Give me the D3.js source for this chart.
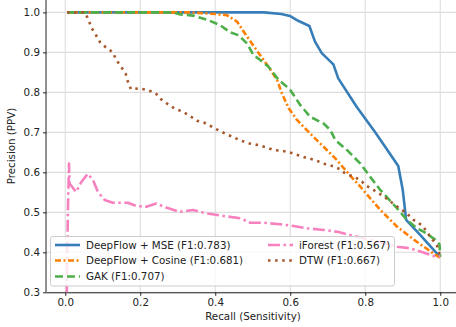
<!DOCTYPE html>
<html>
<head>
<meta charset="utf-8">
<script src="https://cdn.jsdelivr.net/npm/d3@7"></script>
<style>
  body { margin: 0; background: #fff; }
  text { font-family: "DejaVu Sans", sans-serif; fill: #222; }
</style>
</head>
<body>
<div id="chart"></div>
<script>
// precision / recall curves
var mseRecall = [0.005, 0.53, 0.576, 0.599, 0.621, 0.651, 0.666, 0.684, 0.715, 0.728, 0.777, 0.826, 0.853, 0.888, 0.9, 0.909, 0.947, 0.995, 1.0];
var msePrec   = [1.0, 1.0, 0.996, 0.991, 0.979, 0.966, 0.927, 0.898, 0.870, 0.835, 0.764, 0.701, 0.664, 0.616, 0.556, 0.481, 0.443, 0.393, 0.389];

var cosRecall = [0.005, 0.33, 0.40, 0.431, 0.458, 0.485, 0.516, 0.542, 0.565, 0.578, 0.596, 0.618, 0.653, 0.689, 0.724, 0.755, 0.787, 0.84, 0.885, 0.938, 0.982, 1.0];
var cosPrec   = [1.0, 1.0, 0.996, 0.993, 0.977, 0.939, 0.898, 0.864, 0.831, 0.797, 0.76, 0.731, 0.697, 0.664, 0.631, 0.597, 0.564, 0.506, 0.464, 0.426, 0.397, 0.386];

var gakRecall = [0.005, 0.288, 0.307, 0.341, 0.378, 0.413, 0.44, 0.462, 0.485, 0.502, 0.52, 0.542, 0.569, 0.591, 0.6, 0.627, 0.653, 0.689, 0.707, 0.72, 0.751, 0.787, 0.813, 0.84, 0.885, 0.911, 0.938, 0.964, 0.987, 0.998, 1.0];
var gakPrec   = [1.0, 1.0, 0.995, 0.992, 0.982, 0.968, 0.95, 0.943, 0.922, 0.893, 0.881, 0.864, 0.831, 0.814, 0.806, 0.768, 0.739, 0.722, 0.706, 0.681, 0.656, 0.622, 0.589, 0.556, 0.51, 0.481, 0.46, 0.447, 0.431, 0.42, 0.389];

var ifRecall = [0.004, 0.007, 0.01, 0.0115, 0.029, 0.043, 0.06, 0.074, 0.087, 0.105, 0.127, 0.167, 0.189, 0.216, 0.243, 0.269, 0.305, 0.341, 0.378, 0.422, 0.467, 0.493, 0.529, 0.573, 0.609, 0.645, 0.689, 0.729, 0.76, 0.82, 0.885, 0.92, 0.947, 0.982, 1.0];
var ifPrec   = [0.29, 0.5, 0.622, 0.572, 0.551, 0.576, 0.596, 0.581, 0.551, 0.531, 0.524, 0.524, 0.516, 0.514, 0.522, 0.512, 0.501, 0.506, 0.497, 0.491, 0.485, 0.474, 0.474, 0.47, 0.466, 0.46, 0.456, 0.451, 0.443, 0.43, 0.414, 0.41, 0.402, 0.391, 0.389];

var dtwRecall = [0.005, 0.053, 0.062, 0.071, 0.082, 0.093, 0.109, 0.127, 0.136, 0.149, 0.161, 0.167, 0.175, 0.196, 0.218, 0.24, 0.255, 0.273, 0.291, 0.312, 0.331, 0.351, 0.371, 0.391, 0.411, 0.431, 0.448, 0.47, 0.492, 0.515, 0.537, 0.555, 0.577, 0.599, 0.621, 0.644, 0.666, 0.688, 0.706, 0.728, 0.747, 0.769, 0.787, 0.8, 0.822, 0.844, 0.862, 0.88, 0.911, 0.929, 0.951, 0.964, 0.973, 0.991, 1.0];
var dtwPrec   = [1.0, 1.0, 0.981, 0.96, 0.943, 0.925, 0.912, 0.9, 0.881, 0.864, 0.847, 0.827, 0.808, 0.81, 0.806, 0.799, 0.783, 0.771, 0.76, 0.752, 0.742, 0.729, 0.724, 0.714, 0.704, 0.695, 0.688, 0.679, 0.672, 0.668, 0.662, 0.656, 0.654, 0.65, 0.643, 0.636, 0.631, 0.622, 0.618, 0.61, 0.597, 0.589, 0.581, 0.568, 0.556, 0.543, 0.531, 0.518, 0.497, 0.481, 0.468, 0.452, 0.439, 0.418, 0.39];

var labels = ["DeepFlow + MSE (F1:0.783)", "DeepFlow + Cosine (F1:0.681)", "GAK (F1:0.707)", "iForest (F1:0.567)", "DTW (F1:0.667)"];
var xTicks = [0.0, 0.2, 0.4, 0.6, 0.8, 1.0];
var yTicks = [0.3, 0.4, 0.5, 0.6, 0.7, 0.8, 0.9, 1.0];

function zip(xs, ys) {
    return xs.map(function(d, i){ return {r: d, p: ys[i]}; });
}

var series = [
    {name: labels[0], pts: zip(mseRecall, msePrec), color: "#377eb8", dash: null, w: 2.6},
    {name: labels[1], pts: zip(cosRecall, cosPrec), color: "#ff7f00", dash: "6,2.5,2,2.5", w: 2.6},
    {name: labels[2], pts: zip(gakRecall, gakPrec), color: "#4daf4a", dash: "8,4", w: 2.6},
    {name: labels[3], pts: zip(ifRecall, ifPrec), color: "#f781bf", dash: "12,3.5,2.5,3.5", w: 2.6},
    {name: labels[4], pts: zip(dtwRecall, dtwPrec), color: "#a65628", dash: "2.5,4.6", w: 2.6}
];

var W = 456, H = 327;
var left = 46.5, bottom = 292.3;
var fs = "10.3px";

var svg = d3.select("#chart").append("svg")
    .attr("width", W)
    .attr("height", H);

var x = d3.scaleLinear().domain([-0.05, 1.05]).range([left, left + 412.5]);
var y = d3.scaleLinear().domain([0.3, 1.031]).range([bottom, 0]);

svg.append("defs").append("clipPath").attr("id", "clip")
    .append("rect")
    .attr("x", left).attr("y", 0)
    .attr("width", 412.5).attr("height", bottom);

// grid
svg.append("g").selectAll("line")
    .data(xTicks).enter().append("line")
    .attr("x1", function(d){ return x(d); }).attr("x2", function(d){ return x(d); })
    .attr("y1", 0).attr("y2", bottom)
    .attr("stroke", "#dddddd").attr("stroke-width", 1.1);

svg.append("g").selectAll("line")
    .data(yTicks).enter().append("line")
    .attr("x1", left).attr("x2", W)
    .attr("y1", function(d){ return y(d); }).attr("y2", function(d){ return y(d); })
    .attr("stroke", "#dddddd").attr("stroke-width", 1.1);

// axes
var xAxis = d3.axisBottom(x).tickValues(xTicks).tickFormat(d3.format(".1f")).tickSize(3.5).tickPadding(3);
var yAxis = d3.axisLeft(y).tickValues(yTicks).tickFormat(d3.format(".1f")).tickSize(3.5).tickPadding(3);

var gx = svg.append("g")
    .attr("transform", "translate(0," + bottom + ")")
    .call(xAxis);
var gy = svg.append("g")
    .attr("transform", "translate(" + left + ",0)")
    .call(yAxis);

[gx, gy].forEach(function(g){
    g.select(".domain").attr("stroke", "#222").attr("stroke-width", 1);
    g.selectAll(".tick line").attr("stroke", "#222").attr("stroke-width", 1);
    g.selectAll(".tick text").style("font-family", "DejaVu Sans").style("font-size", fs).attr("fill", "#222");
});
gx.select(".domain").attr("d", "M" + left + ",0.5H" + W);
gy.select(".domain").attr("d", "M-0.5," + bottom + "V0");

// curves
var line = d3.line()
    .x(function(d){ return x(d.r); })
    .y(function(d){ return y(d.p); });

var plot = svg.append("g").attr("clip-path", "url(#clip)");

plot.selectAll("path")
    .data(series)
    .enter().append("path")
    .attr("d", function(d){ return line(d.pts); })
    .attr("fill", "none")
    .attr("stroke", function(d){ return d.color; })
    .attr("stroke-width", function(d){ return d.w; })
    .attr("stroke-dasharray", function(d){ return d.dash; })
    .attr("stroke-linejoin", "round");

// axis labels
svg.append("text")
    .attr("x", 253).attr("y", 320)
    .attr("text-anchor", "middle")
    .style("font-size", fs)
    .text("Recall (Sensitivity)");

svg.append("text")
    .attr("transform", "translate(15,146) rotate(-90)")
    .attr("text-anchor", "middle")
    .style("font-size", fs)
    .text("Precision (PPV)");

// legend
var legend = svg.append("g");
legend.append("rect")
    .attr("x", 50.5).attr("y", 236.5)
    .attr("width", 344).attr("height", 49.5)
    .attr("rx", 2.5)
    .attr("fill", "#fff").attr("fill-opacity", 0.8)
    .attr("stroke", "#cccccc").attr("stroke-width", 1);

var legendPos = [[55, 245], [55, 260.5], [55, 276.5], [268, 245], [268, 260.5]];

var items = legend.selectAll("g.item")
    .data(series)
    .enter().append("g")
    .attr("class", "item")
    .attr("transform", function(d, i){ return "translate(" + legendPos[i][0] + "," + legendPos[i][1] + ")"; });

items.append("line")
    .attr("x1", 0).attr("x2", 25)
    .attr("y1", 0).attr("y2", 0)
    .attr("stroke", function(d){ return d.color; })
    .attr("stroke-width", function(d){ return d.w; })
    .attr("stroke-dasharray", function(d){ return d.dash; });

items.append("text")
    .attr("x", 31)
    .attr("y", 0)
    .attr("dy", "0.35em")
    .style("font-size", fs)
    .text(function(d){ return d.name; });
</script>
</body>
</html>
